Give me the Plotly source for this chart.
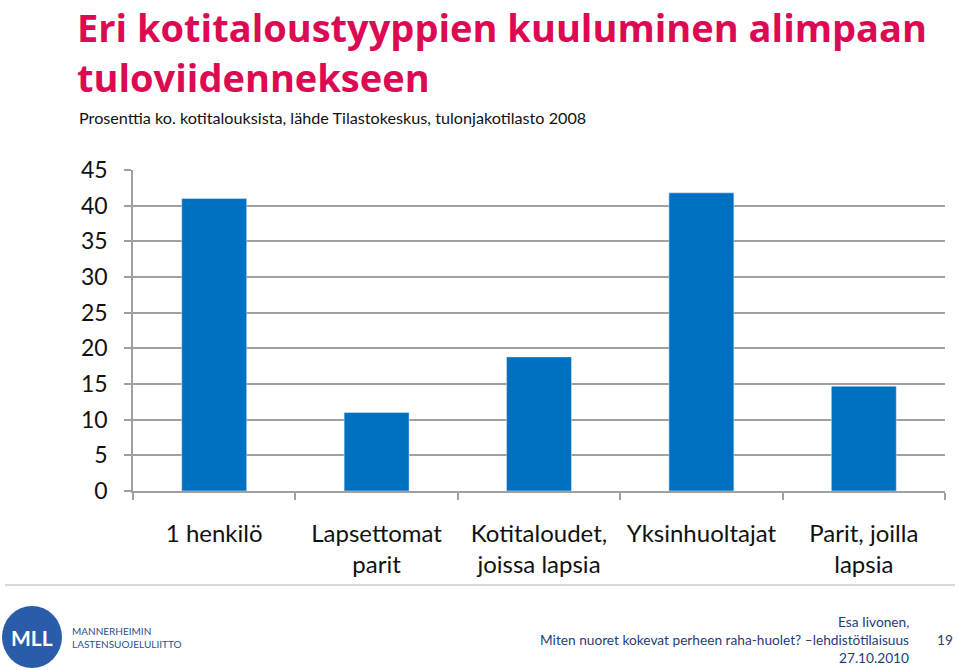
import plotly.graph_objects as go

categories = ["1 henkilö", "Lapsettomat<br>parit", "Kotitaloudet,<br>joissa lapsia", "Yksinhuoltajat", "Parit, joilla<br>lapsia"]
values = [41.0, 11.0, 18.8, 41.8, 14.7]
y_ticks = [0, 5, 10, 15, 20, 25, 30, 35, 40, 45]

W, H = 959, 670
L, R, T, B = 133, 14, 170, 179
PW, PH = W - L - R, H - T - B

def px(x):
    return (x - L) / PW

def py(y):
    return (H - B - y) / PH

FONT = "Lato"
fig = go.Figure(go.Bar(x=categories, y=values, marker_color="#0070C0", width=0.4))

fig.update_layout(
    width=W, height=H,
    margin=dict(l=L, r=R, t=T, b=B),
    paper_bgcolor="white", plot_bgcolor="white",
    showlegend=False,
    font=dict(family=FONT, color="#000000"),
)
fig.update_xaxes(
    type="category", showline=True, linecolor="#A0A0A0", linewidth=1.5,
    ticks="outside", tickson="boundaries", ticklen=7, tickcolor="#A0A0A0", tickwidth=1.5,
    tickfont=dict(size=24, family=FONT, color="#111111"), showgrid=False,
    ticklabelstandoff=20, automargin=False,
)
fig.update_yaxes(
    range=[0, 45], tickvals=y_ticks, showline=True, linecolor="#A0A0A0", linewidth=1.5,
    ticks="outside", ticklen=7, tickcolor="#A0A0A0", tickwidth=1.5,
    showgrid=True, gridcolor="#A0A0A0", gridwidth=1.5, zeroline=False,
    tickfont=dict(size=23, family=FONT, color="#111111"),
    ticklabelstandoff=12, automargin=False,
)

ann = []
TFONT = dict(size=38, color="#DC0A52", family="Open Sans", weight="bold")
ann.append(dict(text="Eri kotitaloustyyppien kuuluminen alimpaan", x=px(75), y=py(27), xref="paper", yref="paper",
                xanchor="left", yanchor="middle", showarrow=False, font=TFONT))
ann.append(dict(text="tuloviidennekseen", x=px(75), y=py(77), xref="paper", yref="paper",
                xanchor="left", yanchor="middle", showarrow=False, font=TFONT))
ann.append(dict(text="Prosenttia ko. kotitalouksista, lähde Tilastokeskus, tulonjakotilasto 2008", x=px(77), y=py(117),
                xref="paper", yref="paper", xanchor="left", yanchor="middle", showarrow=False,
                font=dict(size=16.2, color="#111111", family=FONT)))
foot = "#1F3D7A"
for txt, yy in [("Esa Iivonen,", 621), ("Miten nuoret kokevat perheen raha-huolet? –lehdistötilaisuus", 639), ("27.10.2010", 657)]:
    ann.append(dict(text=txt, x=px(911), y=py(yy), xref="paper", yref="paper", xanchor="right", yanchor="middle",
                    showarrow=False, font=dict(size=13.7, color=foot, family=FONT)))
ann.append(dict(text="19", x=px(945), y=py(639), xref="paper", yref="paper", xanchor="center", yanchor="middle",
                showarrow=False, font=dict(size=13.7, color=foot, family=FONT)))
ann.append(dict(text="<b>MLL</b>", x=px(32), y=py(637), xref="paper", yref="paper", xanchor="center", yanchor="middle",
                showarrow=False, font=dict(size=21, color="white", family=FONT)))
ann.append(dict(text="MANNERHEIMIN<br>LASTENSUOJELULIITTO", x=px(70), y=py(637), xref="paper", yref="paper",
                xanchor="left", yanchor="middle", align="left", showarrow=False,
                font=dict(size=10, color="#2A4F8F", family=FONT)))
fig.update_layout(annotations=ann)

fig.update_layout(shapes=[
    dict(type="line", xref="paper", yref="paper", x0=px(5), x1=px(955), y0=py(585), y1=py(585),
         line=dict(color="#B0B0B0", width=1)),
    dict(type="circle", xref="paper", yref="paper", x0=px(2), x1=px(62), y0=py(606), y1=py(668),
         fillcolor="#2A5CAA", line=dict(width=0)),
])

fig.write_html("out.html", config={"displayModeBar": False},
               post_script="document.body.style.margin='0';document.body.style.overflow='hidden';")
